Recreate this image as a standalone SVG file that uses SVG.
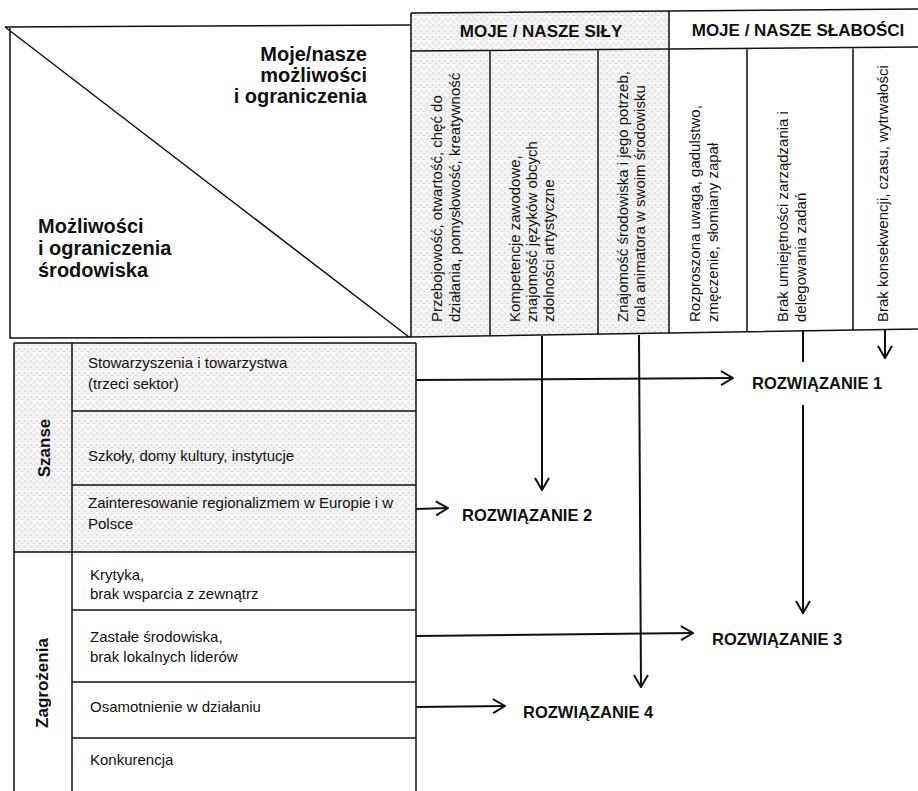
<svg xmlns="http://www.w3.org/2000/svg" width="918" height="791" viewBox="0 0 918 791">
<style>
text{font-family:"Liberation Sans",Arial,sans-serif;fill:#111}
.t{font-size:15px}
.b20{font-size:20px;font-weight:bold}
.hd{font-size:17px;font-weight:bold}
.side{font-size:17px;font-weight:bold}
.sol{font-size:16.5px;font-weight:bold}
.ln{stroke:#111;stroke-width:1.5;fill:none}
.ar{stroke:#111;stroke-width:2;fill:none}
</style>
<defs>
<pattern id="dots" width="6" height="6" patternUnits="userSpaceOnUse">
<rect width="6" height="6" fill="#f3f3f3"/>
<circle cx="1" cy="1" r="0.5" fill="#9a9a9a"/>
<circle cx="4" cy="3.5" r="0.5" fill="#b0b0b0"/>
</pattern>
<marker id="arr" viewBox="0 0 14 16" refX="13" refY="8" markerWidth="14" markerHeight="16" markerUnits="userSpaceOnUse" orient="auto">
<path d="M1,1 L13,8 L1,15" fill="none" stroke="#111" stroke-width="2"/>
</marker>
</defs>
<rect width="918" height="791" fill="#fff"/>

<g id="corner">
<path class="ln" d="M5,27 L411,25 M10,28 L10,338 L411,337 M5,27 L409,337"/>
<text class="b20" x="367" y="61" text-anchor="end">Moje/nasze</text>
<text class="b20" x="367" y="82" text-anchor="end">możliwości</text>
<text class="b20" x="367" y="103" text-anchor="end">i ograniczenia</text>
<text class="b20" x="38" y="233">Możliwości</text>
<text class="b20" x="38" y="255">i ograniczenia</text>
<text class="b20" x="38" y="277">środowiska</text>
</g>

<g id="header-sily">
<polygon points="411,13 669,11 669,332 411,337" fill="url(#dots)"/>
<text class="hd" x="541" y="37" text-anchor="middle">MOJE / NASZE SIŁY</text>
</g>
<g id="header-slabosci">
<text class="hd" x="798" y="36" text-anchor="middle">MOJE / NASZE SŁABOŚCI</text>
</g>
<g id="grid-right">
<path class="ln" d="M411,13 L918,9 M411,51 L918,47 M411,13 L411,337 L918,329 M669,11 L669,333 M490,50 L490,336 M598,50 L598,334 M747,48 L747,331 M853,47 L853,330"/>
</g>

<g id="s1">
<text class="t" transform="translate(442,322) rotate(-90)">Przebojowość, otwartość, chęć do</text>
<text class="t" transform="translate(460,322) rotate(-90)">działania, pomysłowość, kreatywność</text>
</g>
<g id="s2">
<text class="t" transform="translate(520,322) rotate(-90)">Kompetencje zawodowe,</text>
<text class="t" transform="translate(537,322) rotate(-90)">znajomość języków obcych</text>
<text class="t" transform="translate(554,322) rotate(-90)">zdolności artystyczne</text>
</g>
<g id="s3">
<text class="t" transform="translate(628,322) rotate(-90)">Znajomość środowiska i jego potrzeb,</text>
<text class="t" transform="translate(645,322) rotate(-90)">rola animatora w swoim środowisku</text>
</g>
<g id="w1">
<text class="t" transform="translate(700,322) rotate(-90)">Rozproszona uwaga, gadulstwo,</text>
<text class="t" transform="translate(718,322) rotate(-90)">zmęczenie, słomiany zapał</text>
</g>
<g id="w2">
<text class="t" transform="translate(788,322) rotate(-90)">Brak umiejętności zarządzania i</text>
<text class="t" transform="translate(806,322) rotate(-90)">delegowania zadań</text>
</g>
<g id="w3">
<text class="t" transform="translate(888,322) rotate(-90)">Brak konsekwencji, czasu, wytrwałości</text>
</g>

<g id="szanse">
<rect x="14" y="343" width="402" height="209" fill="url(#dots)"/>
<text class="side" transform="translate(50,448) rotate(-90)" text-anchor="middle">Szanse</text>
</g>
<g id="zagrozenia">
<text class="side" transform="translate(48,683) rotate(-90)" text-anchor="middle">Zagrożenia</text>
</g>
<g id="grid-left">
<path class="ln" d="M14,343 L416,343 M14,343 L14,791 M72,343 L72,791 M416,343 L416,791 M72,411 L416,411 M72,485 L416,485 M14,552 L416,552 M72,610 L416,610 M72,682 L416,682 M72,738 L416,738"/>
</g>
<g id="o1"><text class="t" x="88" y="368">Stowarzyszenia i towarzystwa</text><text class="t" x="88" y="389">(trzeci sektor)</text></g>
<g id="o2"><text class="t" x="88" y="461">Szkoły, domy kultury, instytucje</text></g>
<g id="o3"><text class="t" x="88" y="508">Zainteresowanie regionalizmem w Europie i w</text><text class="t" x="88" y="529">Polsce</text></g>
<g id="z1"><text class="t" x="90" y="580">Krytyka,</text><text class="t" x="90" y="599">brak wsparcia z zewnątrz</text></g>
<g id="z2"><text class="t" x="90" y="642">Zastałe środowiska,</text><text class="t" x="90" y="662">brak lokalnych liderów</text></g>
<g id="z3"><text class="t" x="90" y="712">Osamotnienie w działaniu</text></g>
<g id="z4"><text class="t" x="90" y="765">Konkurencja</text></g>

<g id="r1"><text class="sol" x="752" y="389">ROZWIĄZANIE 1</text></g>
<g id="r2"><text class="sol" x="462" y="521">ROZWIĄZANIE 2</text></g>
<g id="r3"><text class="sol" x="712" y="645">ROZWIĄZANIE 3</text></g>
<g id="r4"><text class="sol" x="523" y="718">ROZWIĄZANIE 4</text></g>

<g id="connectors">
<path class="ar" d="M416,380 L733,378" marker-end="url(#arr)"/>
<path class="ar" d="M416,509 L448,508" marker-end="url(#arr)"/>
<path class="ar" d="M416,636 L693,633" marker-end="url(#arr)"/>
<path class="ar" d="M416,707 L505,706" marker-end="url(#arr)"/>
<path class="ar" d="M542,336 L542,490" marker-end="url(#arr)"/>
<path class="ar" d="M639,335 L641,687" marker-end="url(#arr)"/>
<path class="ar" d="M803,331 L803,362"/>
<path class="ar" d="M803,405 L803,613" marker-end="url(#arr)"/>
<path class="ar" d="M885,330 L885,358" marker-end="url(#arr)"/>
</g>
</svg>
